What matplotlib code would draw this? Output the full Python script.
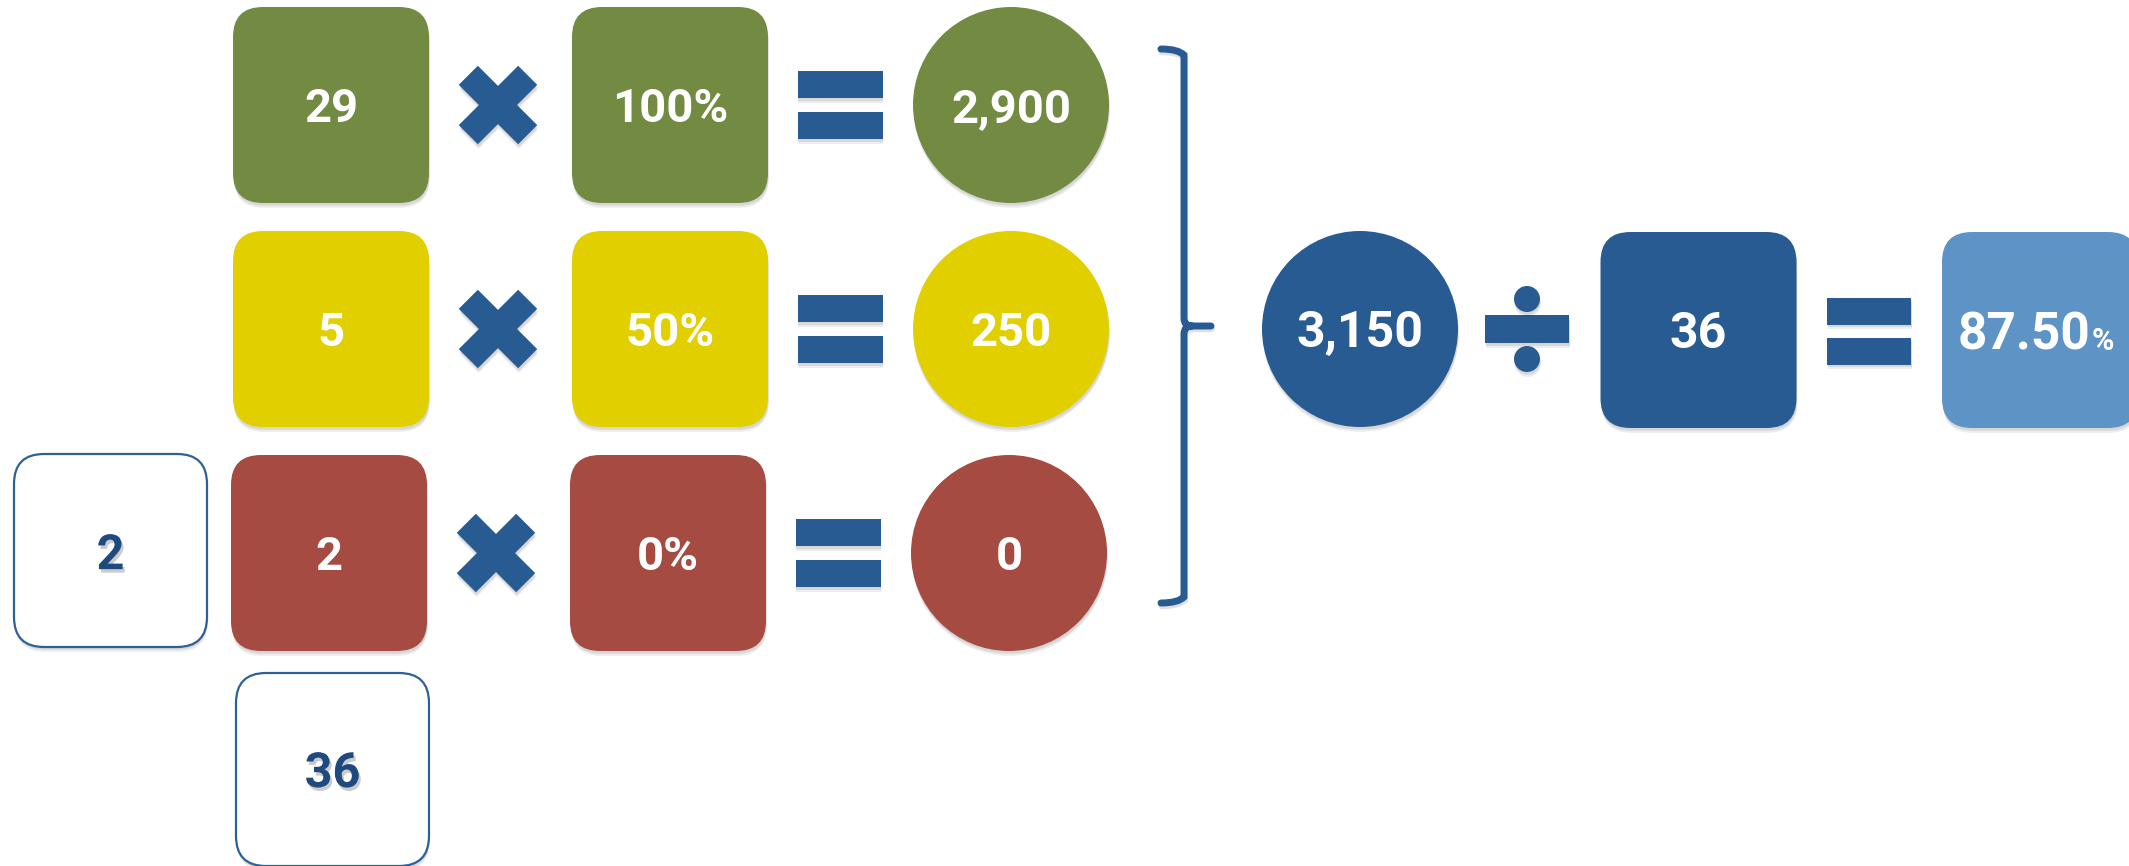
import numpy as np
import matplotlib
matplotlib.use("Agg")
import matplotlib.pyplot as plt
import matplotlib.patheffects as pe
from matplotlib.patches import FancyBboxPatch, Circle, Polygon, Rectangle, PathPatch
from matplotlib.path import Path

# --- values ---
counts = [29, 5, 2]            # first column of each row
weights = [100, 50, 0]         # percent column
products = [2900, 250, 0]      # result circles
row_colors = ["#738A43", "#E2CF00", "#A54B42"]
total = 3150
n_items = 36
result = 87.50
side_value = 2                 # white box left of red row
bottom_value = 36              # white box below red row

DARK_BLUE = "#285B91"
LIGHT_BLUE = "#5E93C6"
OUTLINE = "#2F6199"
TEXT_BLUE = "#1F4A80"
FONT = "Roboto"

W, H = 2129, 866
SQ = 196          # box side in px
RAD = 30          # corner radius
ROW_Y = [105, 329, 553]
ROW_DX = [0, 0, -2]

SHADOW = [pe.SimplePatchShadow(offset=(0.5, -3.5), shadow_rgbFace="black", alpha=0.07),
          pe.SimplePatchShadow(offset=(0.5, -2), shadow_rgbFace="black", alpha=0.09),
          pe.Normal()]

fig = plt.figure(figsize=(W / 100, H / 100), dpi=100)
ax = fig.add_axes([0, 0, 1, 1])
ax.set_xlim(0, W)
ax.set_ylim(H, 0)
ax.axis("off")


def rbox(cx, cy, fc, ec="none", lw=0, w=SQ, h=SQ):
    p = FancyBboxPatch((cx - w / 2, cy - h / 2), w, h,
                       boxstyle=f"round,pad=0,rounding_size={RAD}",
                       fc=fc, ec=ec, lw=lw, path_effects=SHADOW)
    ax.add_patch(p)


def circ(cx, cy, fc, r=98):
    ax.add_patch(Circle((cx, cy), r, fc=fc, ec="none", path_effects=SHADOW))


def label(cx, cy, s, size=34, color="white", shadow=False, ha="center", lift=None):
    kw = {}
    if shadow:
        kw["path_effects"] = [pe.SimplePatchShadow(offset=(1.5, -2.5), shadow_rgbFace="#555555", alpha=0.3),
                              pe.Normal()]
    off = size * 0.49 if lift is None else lift
    ax.text(cx, cy + off, s, ha=ha, va="baseline", fontsize=size,
            fontfamily=FONT, fontweight="bold", color=color, **kw)


def times(cx, cy, h=13.5, L=42):
    pts = np.array([(L, h), (h, h), (h, L), (-h, L), (-h, h), (-L, h),
                    (-L, -h), (-h, -h), (-h, -L), (h, -L), (h, -h), (L, -h)])
    a = np.pi / 4
    rot = np.array([[np.cos(a), -np.sin(a)], [np.sin(a), np.cos(a)]])
    pts = pts @ rot.T + [cx, cy]
    ax.add_patch(Polygon(pts, closed=True, fc=DARK_BLUE, ec="none", path_effects=SHADOW))


def equals(cx, cy, w=85, h=27, gap=14):
    for y0 in (cy - gap / 2 - h, cy + gap / 2):
        ax.add_patch(Rectangle((cx - w / 2, y0), w, h, fc=DARK_BLUE, ec="none", path_effects=SHADOW))


def divide(cx, cy, w=84, h=28):
    ax.add_patch(Rectangle((cx - w / 2, cy - h / 2), w, h, fc=DARK_BLUE, ec="none", path_effects=SHADOW))
    for dy in (-30, 30):
        ax.add_patch(Circle((cx, cy + dy), 13, fc=DARK_BLUE, ec="none", path_effects=SHADOW))


# --- three weighted rows ---
for i in range(3):
    cy, dx = ROW_Y[i], ROW_DX[i]
    rbox(331 + dx, cy, row_colors[i])
    label(331 + dx, cy, f"{counts[i]}")
    times(498 + dx, cy)
    rbox(670 + dx, cy, row_colors[i])
    label(670 + dx, cy, f"{weights[i]}%")
    equals(840 + dx, cy)
    circ(1011 + dx, cy, row_colors[i])
    label(1011 + dx, cy, f"{products[i]:,}")

# --- white helper boxes ---
rbox(110.5, 550.5, "white", ec=OUTLINE, lw=1.6, w=193, h=193)
label(110.5, 552, f"{side_value}", size=35, color=TEXT_BLUE, shadow=True)
rbox(332.5, 769.5, "white", ec=OUTLINE, lw=1.6, w=193, h=193)
label(332.5, 770, f"{bottom_value}", size=35, color=TEXT_BLUE, shadow=True)

# --- brace ---
xv, xl, xt = 1184, 1161, 1211
yt, ym, yb = 49, 326, 603
verts = [(xl, yt), (xv - 6, yt), (xv, yt + 6), (xv, ym - 8), (xv, ym), (xv + 8, ym), (xt, ym),
         (xv + 8, ym), (xv, ym), (xv, ym + 8), (xv, yb - 6), (xv - 6, yb), (xl, yb)]
codes = [Path.MOVETO, Path.CURVE3, Path.CURVE3, Path.LINETO, Path.CURVE3, Path.CURVE3, Path.LINETO,
         Path.MOVETO, Path.CURVE3, Path.CURVE3, Path.LINETO, Path.CURVE3, Path.CURVE3]
ax.add_patch(PathPatch(Path(verts, codes), fc="none", ec=DARK_BLUE, lw=5, capstyle="round",
                       path_effects=[pe.SimpleLineShadow(offset=(0.5, -2), alpha=0.12), pe.Normal()]))

# --- total / n = result ---
circ(1360, 329, DARK_BLUE)
label(1360, 329, f"{total:,}", size=36)
divide(1527, 329)
rbox(1698.5, 330, DARK_BLUE)
label(1698.5, 330, f"{n_items}", size=36)
equals(1869, 331, w=84, h=27, gap=13)
rbox(2040, 330, LIGHT_BLUE)
label(2090, 330, f"{result:.2f}", size=37, ha="right", lift=20)
ax.text(2092, 350, "%", ha="left", va="baseline", fontsize=22,
        fontfamily=FONT, fontweight="bold", color="white")

fig.savefig("out.png", dpi=100)
